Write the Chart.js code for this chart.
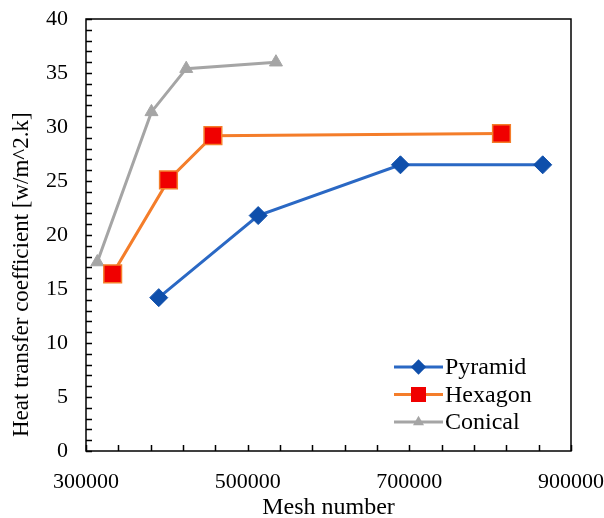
<!DOCTYPE html>
<html>
<head>
<meta charset="utf-8">
<script src="https://cdn.jsdelivr.net/npm/chart.js@4/dist/chart.umd.min.js"></script>
<style>
  html, body { margin: 0; padding: 0; background: #fff; }
  #wrap { width: 604px; height: 518px; }
</style>
</head>
<body>
<div id="wrap"><canvas id="meshChart" width="604" height="518"></canvas></div>
<script>
// Mesh independence study - heat transfer coefficient vs mesh size

const seriesNames = ['Pyramid', 'Hexagon', 'Conical'];

const pyramidMesh = [390000, 513000, 689000, 865000];
const pyramidHtc = [14.2, 21.8, 26.5, 26.5];

const hexagonMesh = [333000, 402000, 457000, 814000];
const hexagonHtc = [16.4, 25.1, 29.2, 29.4];

const conicalMesh = [314000, 381000, 424000, 535000];
const conicalHtc = [17.5, 31.4, 35.4, 36.0];

const xTickLabels = [300000, 500000, 700000, 900000];
const yTickLabels = [0, 5, 10, 15, 20, 25, 30, 35, 40];

const yTitle = 'Heat transfer coefficient [w/m^2.k]';

const FONT = "'Liberation Serif', 'Times New Roman', serif";

function toPoints(xs, ys) {
    return xs.map((x, i) => ({ x: x, y: ys[i] }));
}

// Frame around plot area plus inward-facing tick marks
const frameTicks = {
    id: 'frameTicks',
    afterDraw(chart) {
        const { ctx, chartArea: a, scales } = chart;
        ctx.save();
        ctx.strokeStyle = '#000';
        ctx.lineWidth = 1.5;
        ctx.strokeRect(a.left, a.top, a.right - a.left, a.bottom - a.top);
        ctx.beginPath();
        scales.x.ticks.forEach(t => {
            const px = Math.round(scales.x.getPixelForValue(t.value)) + 0.5;
            ctx.moveTo(px, a.bottom);
            ctx.lineTo(px, a.bottom - 6);
        });
        scales.y.ticks.forEach(t => {
            const py = Math.round(scales.y.getPixelForValue(t.value)) + 0.5;
            ctx.moveTo(a.left, py);
            ctx.lineTo(a.left + 6, py);
        });
        ctx.stroke();

        // vertical axis title, anchored near the bottom of the plot
        ctx.translate(22, a.bottom - 14);
        ctx.rotate(-Math.PI / 2);
        ctx.font = '23px ' + FONT;
        ctx.fillStyle = '#000';
        ctx.textAlign = 'left';
        ctx.textBaseline = 'middle';
        ctx.fillText(yTitle, 0, 0);
        ctx.restore();
    }
};

// Legend with a short line through each marker, inside the lower right corner
const lineLegend = {
    id: 'lineLegend',
    afterDraw(chart) {
        const { ctx, chartArea: a } = chart;
        const x0 = a.right - 177;
        const lineLen = 49;
        const rowH = 27.5;
        const y0 = a.bottom - 84;
        ctx.save();
        ctx.font = '24px ' + FONT;
        ctx.textBaseline = 'middle';
        chart.data.datasets.forEach((ds, i) => {
            const y = y0 + i * rowH;
            ctx.strokeStyle = ds.borderColor;
            ctx.lineWidth = ds.borderWidth;
            ctx.beginPath();
            ctx.moveTo(x0, y);
            ctx.lineTo(x0 + lineLen, y);
            ctx.stroke();
            ctx.fillStyle = ds.pointBackgroundColor;
            ctx.strokeStyle = ds.pointBorderColor;
            ctx.lineWidth = ds.pointBorderWidth;
            Chart.helpers.drawPoint(ctx, {
                pointStyle: ds.pointStyle,
                radius: ds.pointRadius * 0.85,
                rotation: 0
            }, x0 + lineLen / 2, y);
            ctx.fillStyle = '#000';
            ctx.fillText(ds.label, x0 + lineLen + 2, y + 1);
        });
        ctx.restore();
    }
};

// invisible tick marks push the labels away from the axis
// without adding to the outer layout padding
const spacerGrid = len => ({
    display: true,
    drawOnChartArea: false,
    drawTicks: true,
    tickLength: len,
    tickColor: 'rgba(0,0,0,0)'
});

new Chart(document.getElementById('meshChart'), {
    type: 'scatter',
    data: {
        datasets: [
            {
                label: seriesNames[0],
                data: toPoints(pyramidMesh, pyramidHtc),
                showLine: true,
                borderColor: '#2a68c4',
                borderWidth: 3,
                pointStyle: 'rectRot',
                pointRadius: 9,
                pointBackgroundColor: '#0f4fab',
                pointBorderColor: '#0f4fab',
                pointBorderWidth: 1
            },
            {
                label: seriesNames[1],
                data: toPoints(hexagonMesh, hexagonHtc),
                showLine: true,
                borderColor: '#f47d2a',
                borderWidth: 3,
                pointStyle: 'rect',
                pointRadius: 12.5,
                pointBackgroundColor: '#f00000',
                pointBorderColor: '#f47d2a',
                pointBorderWidth: 1.5
            },
            {
                label: seriesNames[2],
                data: toPoints(conicalMesh, conicalHtc),
                showLine: true,
                borderColor: '#a5a5a5',
                borderWidth: 3,
                pointStyle: 'triangle',
                pointRadius: 7.5,
                pointBackgroundColor: '#a5a5a5',
                pointBorderColor: '#a5a5a5',
                pointBorderWidth: 1
            }
        ]
    },
    options: {
        responsive: false,
        animation: false,
        layout: { padding: { top: 19, right: 33, left: 0, bottom: 0 } },
        plugins: {
            legend: { display: false },
            tooltip: { enabled: false }
        },
        scales: {
            x: {
                type: 'linear',
                min: 300000,
                max: 900000,
                afterFit(scale) { scale.height = 67; },
                ticks: {
                    stepSize: 40000,
                    autoSkip: false,
                    maxRotation: 0,
                    padding: 0,
                    color: '#000',
                    font: { family: FONT, size: 22 },
                    callback: v => (xTickLabels.includes(v) ? String(v) : '')
                },
                grid: spacerGrid(18),
                border: { display: false },
                title: {
                    display: true,
                    text: 'Mesh number',
                    color: '#000',
                    font: { family: FONT, size: 24 },
                    padding: { top: 0, bottom: -4 }
                }
            },
            y: {
                type: 'linear',
                min: 0,
                max: 40,
                afterFit(scale) { scale.width = 86; },
                ticks: {
                    stepSize: 1,
                    autoSkip: false,
                    padding: 0,
                    color: '#000',
                    font: { family: FONT, size: 22 },
                    callback: v => (yTickLabels.includes(v) ? String(v) : '')
                },
                grid: spacerGrid(18),
                border: { display: false },
                title: { display: false }
            }
        }
    },
    plugins: [frameTicks, lineLegend]
});
</script>
</body>
</html>
